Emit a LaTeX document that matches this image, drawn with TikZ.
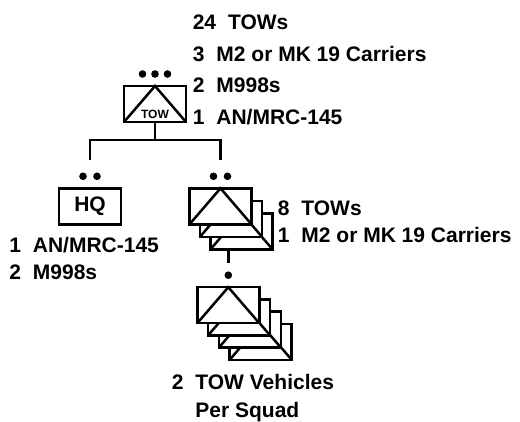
\documentclass[tikz,border=0pt]{standalone}
\usepackage{fontspec}
\setmainfont{Liberation Sans}
\usetikzlibrary{positioning}
\newcommand{\numgap}{\hspace{12pt}}

\begin{document}
\begin{tikzpicture}[x=1pt, y=-1pt, line width=2.5pt,
    every node/.style={font=\bfseries\fontsize{21}{27}\selectfont},
    unit/.style={draw, fill=white, minimum width=62pt, minimum height=36pt, inner sep=0pt, outer sep=0pt},
    lbl/.style={align=left, inner sep=0pt, anchor=north west},
    echdot/.style={circle, fill, inner sep=0pt, minimum size=7.6pt}]
    \useasboundingbox (0,0) rectangle (520,422);
    % company
    \node[unit] (co) at (155,104) {};
    \draw (co.south west) -- (co.north) -- (co.south east);
    \node[font=\bfseries\fontsize{12}{12}\selectfont, anchor=base, inner sep=0pt] (cotow) at ([yshift=3pt]co.south) {TOW};
    \foreach \k in {-1,0,1} \fill ([xshift=\k*12.5pt, yshift=12pt]co.north) circle (3.8pt);
    \node[lbl] (colbl) at (191.5,14) {24\numgap TOWs\\[4.5pt]3\numgap M2 or MK 19 Carriers\\[4.5pt]2\numgap M998s\\[4.5pt]1\numgap AN/MRC-145};
    % HQ
    \node[unit] (hq) at (90,206.3) {HQ};
    \foreach \k in {-1,1} \fill ([xshift=\k*7pt, yshift=12pt]hq.north) circle (3.8pt);
    \node[lbl] (hqlbl) at (8,236) {1\numgap AN/MRC-145\\2\numgap M998s};
    % platoon
    \foreach \i in {2,1,0}{
      \node[unit] (plt\i) at (220.5+\i*10.5, 206.3+\i*12.5) {};
      \draw (plt\i.south west) -- (plt\i.north) -- (plt\i.south east);
    }
    \foreach \k in {-1,1} \fill ([xshift=\k*7pt, yshift=12pt]plt0.north) circle (3.8pt);
    \node[lbl] (pltlbl) at (276.5,200) {8\numgap TOWs\\1\numgap M2 or MK 19 Carriers};
    % squad
    \foreach \i in {3,2,1,0}{
      \node[unit] (sqd\i) at (228.3+\i*10.8, 305.2+\i*12.2) {};
      \draw (sqd\i.south west) -- (sqd\i.north) -- (sqd\i.south east);
    }
    \node[echdot] (sqdot) at ([yshift=12pt]sqd0.north) {};
    \node[lbl] (sqdlbl) at (170.5,373.5) {2\numgap TOW Vehicles\\[1pt]\phantom{2}\numgap Per Squad};
    % tree
    \coordinate (br) at ([yshift=-18pt]co.south);
    \coordinate (hqtop) at ([yshift=28pt]hq.north);
    \coordinate (plttop) at ([yshift=28pt]plt0.north);
    \draw (co.south) -- (br);
    \draw (hqtop) |- (br) -| (plttop);
    \draw (plt2.south -| sqdot) -- ([yshift=7pt]sqdot.north);
\end{tikzpicture}
\end{document}
